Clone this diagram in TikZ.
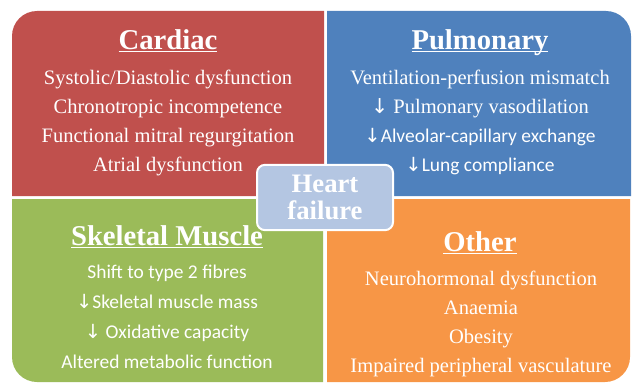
\documentclass[tikz,border=0pt]{standalone}
\usepackage{fontspec}
\setmainfont{Liberation Serif}
\newfontfamily\calib{Carlito}
\newfontfamily\arrowfont{DejaVu Sans}
\usetikzlibrary{positioning}
\definecolor{cardred}{RGB}{192,80,77}
\definecolor{pulmblue}{RGB}{79,129,189}
\definecolor{musclegreen}{RGB}{155,187,89}
\definecolor{otherorange}{RGB}{247,150,70}
\definecolor{hfblue}{RGB}{180,198,226}
\newcommand{\dn}{{\arrowfont\char"2193}}
\newcommand{\hdline}[1]{\setbox0\hbox{#1}\rlap{\rule[-2.6pt]{\wd0}{1.1pt}}\box0}
\tikzset{
  head/.style={text=white,anchor=base,inner sep=0pt,
    font=\fontsize{21.5}{24}\selectfont\bfseries},
  item/.style={text=white,anchor=base,inner sep=0pt,
    font=\fontsize{15.4}{17}\selectfont},
  hub/.style={fill=hfblue,draw=white,line width=1.5pt,rounded corners=6pt,
    text=white,minimum width=102pt,minimum height=49pt,align=center,
    font=\fontsize{20}{20.25}\selectfont\bfseries},
}
\begin{document}
\begin{tikzpicture}[x=0.75pt,y=0.75pt]
  \useasboundingbox (0,0) rectangle (632,383);
  % the four fields
  \fill[cardred] (12,187) -- (12,347) arc[start angle=180,end angle=90,radius=18.75pt]
    -- (324,372) -- (324,187) -- cycle;
  \fill[pulmblue] (327,187) -- (327,372) -- (606,372)
    arc[start angle=90,end angle=0,radius=18.75pt] -- (631,187) -- cycle;
  \fill[musclegreen] (12,184) -- (323,184) -- (323,1) -- (37,1)
    arc[start angle=270,end angle=180,radius=18.75pt] -- cycle;
  \fill[otherorange] (327,184) -- (327,1) -- (605,1)
    arc[start angle=270,end angle=360,radius=18.75pt] -- (630,184) -- cycle;
  % headings
  \node[head] (cardtitle) at (168,334) {\hdline{Cardiac}};
  \node[head] (pulmtitle) at (480,334) {\hdline{Pulmonary}};
  \node[head] (musctitle) at (167,138) {\hdline{Skeletal Muscle}};
  \node[head] (othtitle) at (480,132) {\hdline{Other}};
  % entries
  \foreach \t [count=\i] in {Systolic/Diastolic dysfunction,Chronotropic incompetence,
      Functional mitral regurgitation,Atrial dysfunction}
    \node[item] (card\i) at (168,{328-29*\i}) {\t};
  \foreach \t [count=\i] in {Ventilation-perfusion mismatch,{\dn\ Pulmonary vasodilation},
      {\calib\fontsize{14.6}{17}\selectfont\dn Alveolar-capillary exchange},
      {\calib\fontsize{14.6}{17}\selectfont\dn Lung compliance}}
    \node[item] (pulm\i) at (480,{328-29*\i}) {\t};
  \foreach \t [count=\i] in {Shift to type 2 fibres,\dn Skeletal muscle mass,
      \dn\ Oxidative capacity,Altered metabolic function}
    \node[item,font=\fontsize{14.6}{17}\selectfont\calib] (musc\i) at (167,{135-30*\i}) {\t};
  \foreach \t [count=\i] in {Neurohormonal dysfunction,Anaemia,Obesity,
      Impaired peripheral vasculature}
    \node[item] (oth\i) at (481,{127-29*\i}) {\t};
  % centre
  \node[hub] (hf) at (325,185.5) {Heart\\failure};
\end{tikzpicture}
\end{document}
